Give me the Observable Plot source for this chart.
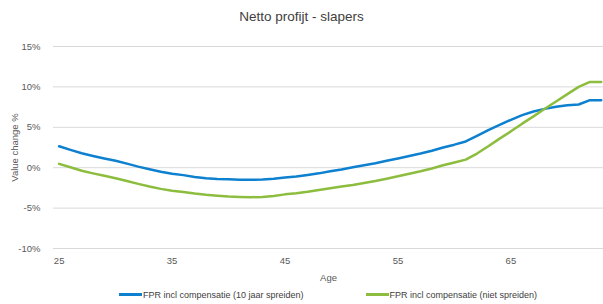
<!DOCTYPE html>
<html><head><meta charset="utf-8">
<script src="https://cdn.jsdelivr.net/npm/d3@7"></script>
<script src="https://cdn.jsdelivr.net/npm/@observablehq/plot@0.6"></script>
<style>
body{margin:0;background:#fff;font-family:"Liberation Sans",Arial,sans-serif;width:603px;overflow:hidden;}
#title{height:30px;line-height:33px;text-align:center;font-size:13.5px;color:#404040;}
#chart svg{display:block;overflow:visible;}
#legend{display:flex;justify-content:center;gap:62px;padding-left:53px;height:19px;align-items:center;font-size:9px;color:#404040;}
#legend .item{display:flex;align-items:center;}
#legend .sw{display:inline-block;width:23px;height:3px;margin-right:1px;}
</style></head><body>
<div id="title">Netto profijt - slapers</div>
<div id="chart"></div>
<div id="legend"></div>
<script>
const ages = [25,26,27,28,29,30,31,32,33,34,35,36,37,38,39,40,41,42,43,44,45,46,47,48,49,50,51,52,53,54,55,56,57,58,59,60,61,62,63,64,65,66,67,68,69,70,71,72,73];
const seriesNames = ["FPR incl compensatie (10 jaar spreiden)", "FPR incl compensatie (niet spreiden)"];
const spreiden10 = [2.65,2.2,1.78,1.45,1.15,0.85,0.5,0.13,-0.2,-0.5,-0.75,-0.92,-1.15,-1.3,-1.4,-1.44,-1.48,-1.5,-1.47,-1.36,-1.2,-1.08,-0.9,-0.7,-0.45,-0.22,0.05,0.3,0.55,0.85,1.15,1.45,1.75,2.1,2.5,2.85,3.25,3.95,4.65,5.3,5.93,6.5,6.95,7.28,7.55,7.72,7.82,8.36,8.36];
const nietSpreiden = [0.47,0.05,-0.37,-0.7,-1.0,-1.3,-1.65,-2.0,-2.33,-2.62,-2.84,-3.0,-3.2,-3.36,-3.48,-3.57,-3.62,-3.65,-3.62,-3.5,-3.3,-3.17,-2.98,-2.75,-2.55,-2.32,-2.13,-1.9,-1.65,-1.36,-1.05,-0.75,-0.45,-0.1,0.3,0.65,1.0,1.75,2.65,3.6,4.5,5.45,6.35,7.3,8.2,9.1,10.0,10.62,10.62];
const yTicks = [-10,-5,0,5,10,15];
const xTicks = [25,35,45,55,65];
const colors = ["#0d80cf", "#8cbd3f"];

const data = [];
ages.forEach((a, i) => {
  data.push({age: a, value: spreiden10[i], series: seriesNames[0]});
  data.push({age: a, value: nietSpreiden[i], series: seriesNames[1]});
});

const plot = Plot.plot({
  width: 603,
  height: 255,
  marginLeft: 53,
  marginRight: 0,
  marginTop: 16,
  marginBottom: 37,
  style: {fontFamily: '"Liberation Sans", Arial, sans-serif', fontSize: "9px", color: "#595959", background: "#fff"},
  x: {domain: [24.5, 73.2]},
  y: {domain: [-10, 15]},
  color: {domain: seriesNames, range: colors},
  marks: [
    Plot.gridY(yTicks, {stroke: "#d9d9d9", strokeOpacity: 1, strokeWidth: 1}),
    Plot.axisY(yTicks, {tickSize: 0, tickPadding: 13, tickFormat: d => d + "%", label: "Value change %", labelAnchor: "center", labelArrow: "none", labelOffset: 42, fill: "#595959", fontSize: 9.5}),
    Plot.axisX(xTicks, {tickSize: 0, tickPadding: 9, label: "Age", labelAnchor: "center", labelArrow: "none", labelOffset: 32, fill: "#595959", fontSize: 9.5}),
    Plot.line(data, {x: "age", y: "value", z: "series", stroke: "series", strokeWidth: 2.5, strokeLinejoin: "round"})
  ]
});
document.getElementById("chart").appendChild(plot);

const color = plot.scale("color");
const legend = document.getElementById("legend");
seriesNames.forEach(name => {
  const item = document.createElement("div");
  item.className = "item";
  const sw = document.createElement("span");
  sw.className = "sw";
  sw.style.background = color.apply(name);
  item.appendChild(sw);
  const t = document.createElement("span");
  t.textContent = name;
  item.appendChild(t);
  legend.appendChild(item);
});
</script>
</body></html>
